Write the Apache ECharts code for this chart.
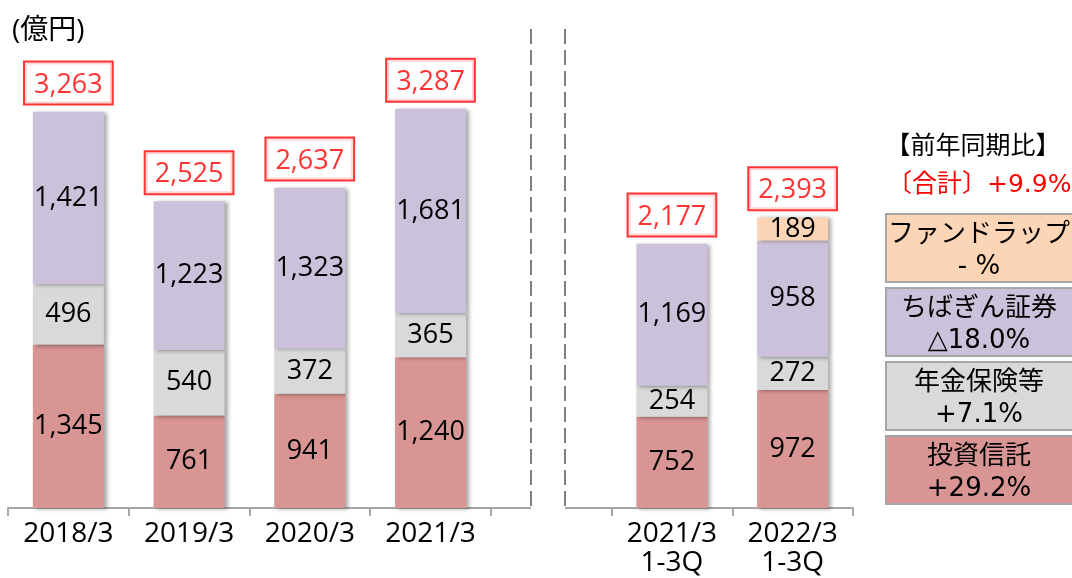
<!DOCTYPE html>
<html>
<head>
<meta charset="utf-8">
<script src="https://cdn.jsdelivr.net/npm/echarts@6/dist/echarts.min.js"></script>
<style>
  html, body { margin: 0; padding: 0; background: #fff; }
  #chart { width: 1072px; height: 578px; }
</style>
</head>
<body>
<div id="chart"></div>
<script>
// categories (empty slot = gap between annual and 1-3Q)
var categories = ['2018/3', '2019/3', '2020/3', '2021/3', '', '2021/3\n1-3Q', '2022/3\n1-3Q'];
var toushin  = [1345, 761, 941, 1240, '-', 752, 972];   // 投資信託
var nenkin   = [496, 540, 372, 365, '-', 254, 272];     // 年金保険等
var chibagin = [1421, 1223, 1323, 1681, '-', 1169, 958]; // ちばぎん証券
var fundWrap = ['-', '-', '-', '-', '-', '-', 189];     // ファンドラップ
var totals   = [3263, 2525, 2637, 3287, '-', 2177, 2393];

var legendNames   = ['ファンドラップ', 'ちばぎん証券', '年金保険等', '投資信託'];
var legendChanges = ['- %', '△18.0%', '+7.1%', '+29.2%'];
var legendColors  = ['#FBD5B5', '#CCC1DA', '#D9D9D9', '#D99594'];

var FONT = '"Open Sans", "Noto Sans CJK JP", sans-serif';
var FONT_WIDE = '"DejaVu Sans", "Noto Sans CJK JP", sans-serif';

function fmt(v) {
    return String(v).replace(/\B(?=(\d{3})+(?!\d))/g, ',');
}

var chart = echarts.init(document.getElementById('chart'));

function barSeries(name, data, color) {
    return {
        name: name,
        type: 'bar',
        stack: 'total',
        barWidth: 71,
        data: data,
        itemStyle: {
            color: color,
            shadowColor: 'rgba(0,0,0,0.35)',
            shadowBlur: 4,
            shadowOffsetX: 3,
            shadowOffsetY: 1
        },
        label: {
            show: true,
            position: 'inside',
            color: '#000',
            fontFamily: FONT,
            fontSize: 27,
            formatter: function (p) { return fmt(p.value); }
        }
    };
}

// legend boxes on the right
var legendGraphics = [];
for (var i = 0; i < legendNames.length; i++) {
    var boxY = 214 + i * 74;
    legendGraphics.push({
        type: 'rect',
        shape: { x: 886, y: boxY, width: 200, height: 68 },
        style: { fill: legendColors[i], stroke: '#A6A6A6', lineWidth: 2 }
    });
    legendGraphics.push({
        type: 'text',
        x: 979, y: boxY + 37,
        style: {
            text: legendNames[i] + '\n' + legendChanges[i],
            fill: '#000', font: '26px ' + FONT_WIDE,
            align: 'center', verticalAlign: 'middle', lineHeight: 32
        }
    });
}

var option = {
    animation: false,
    textStyle: { fontFamily: FONT },
    grid: { left: 8, right: 219, top: 22, bottom: 70 },
    xAxis: {
        type: 'category',
        data: categories,
        axisLine: { lineStyle: { color: '#A6A6A6', width: 2 } },
        axisTick: { show: true, length: 8, lineStyle: { color: '#A6A6A6', width: 2 } },
        axisLabel: { color: '#000', fontSize: 28, fontFamily: FONT, margin: 12, lineHeight: 29, interval: 0 }
    },
    yAxis: { type: 'value', min: 0, max: 4000, show: false, splitLine: { show: false } },
    series: [
        barSeries('投資信託', toushin, '#D99594'),
        barSeries('年金保険等', nenkin, '#D9D9D9'),
        barSeries('ちばぎん証券', chibagin, '#CCC1DA'),
        barSeries('ファンドラップ', fundWrap, '#FBD5B5'),
        {
            name: '合計',
            type: 'scatter',
            data: totals,
            symbolSize: 0,
            silent: true,
            label: {
                show: true,
                position: 'top',
                distance: 8,
                color: '#FF0000',
                fontSize: 27,
                fontFamily: FONT,
                borderColor: '#FF0000',
                borderWidth: 2,
                padding: [9, 9, 5, 9],
                backgroundColor: '#fff',
                formatter: function (p) { return fmt(p.value); }
            }
        }
    ],
    graphic: [
        { type: 'text', x: 12, y: 31, style: { text: '(億円)', fill: '#000', font: '28px ' + FONT, verticalAlign: 'middle' } },
        // cover the axis between the two panels
        { type: 'rect', z: 100, shape: { x: 531, y: 503, width: 34, height: 20 }, style: { fill: '#fff' } },
        { type: 'line', z: 101, shape: { x1: 531, y1: 29, x2: 531, y2: 508 }, style: { stroke: '#808080', lineWidth: 2, lineDash: [15, 6] } },
        { type: 'line', z: 101, shape: { x1: 565, y1: 29, x2: 565, y2: 508 }, style: { stroke: '#808080', lineWidth: 2, lineDash: [15, 6] } },
        { type: 'text', x: 973, y: 147, style: { text: '【前年同期比】', fill: '#000', font: '25px ' + FONT, align: 'center', verticalAlign: 'middle' } },
        { type: 'text', x: 887, y: 185, style: { text: '〔合計〕+9.9%', fill: '#FF0000', font: '25px ' + FONT_WIDE, verticalAlign: 'middle' } }
    ].concat(legendGraphics)
};

chart.setOption(option);
window.addEventListener('resize', function () { chart.resize(); });
</script>
</body>
</html>
